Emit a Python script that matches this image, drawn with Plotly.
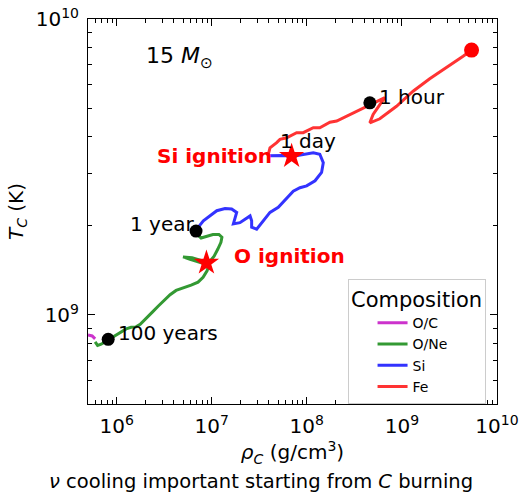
import numpy as np
import plotly.graph_objects as go

# ---- data (central density in g/cm^3, central temperature in K) ----
oc_rho = [5.0e5, 5.53e5, 5.94e5]
oc_T = [8.56e8, 8.49e8, 8.30e8]

one_rho = [5.94e5, 6.31e5, 6.88e5, 7.39e5, 8.15e5, 9.41e5, 1.09e6, 1.26e6, 1.42e6, 1.60e6,
           1.77e6, 2.04e6, 2.36e6, 2.73e6, 3.16e6, 3.65e6, 4.22e6, 5.00e6, 6.07e6, 7.18e6,
           8.11e6, 8.93e6, 9.25e6, 8.71e6, 7.54e6, 6.21e6, 5.00e6, 5.92e6, 7.02e6, 8.30e6,
           9.60e6, 1.06e7, 1.16e7, 1.25e7, 1.28e7, 1.19e7, 1.03e7, 8.93e6, 7.73e6, 7.18e6,
           7.02e6]
one_T = [8.11e8, 7.89e8, 7.96e8, 8.07e8, 8.24e8, 8.47e8, 8.70e8, 8.97e8, 9.08e8, 9.11e8,
         9.29e8, 9.77e8, 1.02e9, 1.07e9, 1.12e9, 1.17e9, 1.21e9, 1.23e9, 1.26e9, 1.29e9,
         1.34e9, 1.41e9, 1.46e9, 1.50e9, 1.53e9, 1.56e9, 1.57e9, 1.54e9, 1.51e9, 1.49e9,
         1.52e9, 1.58e9, 1.67e9, 1.76e9, 1.83e9, 1.87e9, 1.87e9, 1.85e9, 1.82e9, 1.86e9,
         1.92e9]

si_rho = [7.02e6, 7.23e6, 8.17e6, 9.60e6, 1.13e7, 1.38e7, 1.62e7, 1.83e7, 1.76e7, 1.69e7,
          1.98e7, 2.33e7, 2.53e7, 2.63e7, 2.63e7, 2.97e7, 3.35e7, 4.10e7, 5.01e7, 6.14e7,
          7.20e7, 8.47e7, 9.96e7, 1.22e8, 1.43e8, 1.49e8, 1.37e8, 1.17e8, 9.16e7, 7.20e7,
          5.65e7, 4.62e7, 3.90e7]
si_T = [1.92e9, 1.98e9, 2.08e9, 2.17e9, 2.25e9, 2.29e9, 2.28e9, 2.22e9, 2.13e9, 2.03e9,
        2.05e9, 2.13e9, 2.16e9, 2.08e9, 1.98e9, 1.95e9, 2.05e9, 2.22e9, 2.31e9, 2.49e9,
        2.62e9, 2.69e9, 2.73e9, 2.84e9, 3.03e9, 3.27e9, 3.49e9, 3.53e9, 3.49e9, 3.44e9,
        3.46e9, 3.46e9, 3.45e9]

fe_rho = [3.90e7, 4.10e7, 4.82e7, 5.22e7, 6.14e7, 7.82e7, 9.16e7, 1.17e8, 1.37e8, 1.75e8,
          2.06e8, 2.84e8, 4.25e8, 5.41e8, 6.61e8, 5.86e8, 4.98e8, 4.60e8, 5.86e8, 8.77e8,
          1.31e9, 1.96e9, 2.94e9, 4.40e9, 5.38e9]
fe_T = [3.45e9, 3.67e9, 3.82e9, 3.92e9, 3.97e9, 4.13e9, 4.13e9, 4.29e9, 4.29e9, 4.48e9,
        4.52e9, 4.76e9, 5.07e9, 5.28e9, 5.42e9, 5.14e9, 4.76e9, 4.46e9, 4.60e9, 5.07e9,
        5.70e9, 6.28e9, 6.84e9, 7.48e9, 7.84e9]

time_labels = ["100 years", "1 year", "1 day", "1 hour"]
time_rho = [8.15e5, 6.84e6, 6.92e7, 4.60e8]
time_T = [8.27e8, 1.92e9, 3.44e9, 5.21e9]

ignition_labels = ["O ignition", "Si ignition"]
ignition_rho = [8.8e6, 6.92e7]
ignition_T = [1.50e9, 3.44e9]

final_rho = [5.4e9]
final_T = [7.85e9]

# tick labels
x_decades = [6, 7, 8, 9, 10]
y_decades = [9, 10]
x_ticktext = ["10<sup>%d</sup>" % d for d in x_decades]
y_ticktext = ["10<sup>%d</sup>" % d for d in y_decades]

FONT = "DejaVu Sans"
X_RANGE = [np.log10(5e5), 10]
Y_RANGE = [np.log10(5e8), 10]

x_minor = [m * 10.0 ** e for e in range(5, 10) for m in range(2, 10)
           if 5e5 <= m * 10.0 ** e <= 1e10]
y_minor = [m * 10.0 ** e for e in range(8, 10) for m in range(2, 10)
           if 5e8 <= m * 10.0 ** e <= 1e10]

fig = go.Figure()
for name, xs, ys, col in [("O/C", oc_rho, oc_T, "#cc33cc"),
                          ("O/Ne", one_rho, one_T, "#339933"),
                          ("Si", si_rho, si_T, "#3333ff"),
                          ("Fe", fe_rho, fe_T, "#ff3333")]:
    fig.add_trace(go.Scatter(x=xs, y=ys, mode="lines", name=name,
                             line=dict(color=col, width=3)))

fig.add_trace(go.Scatter(x=[time_rho[0], time_rho[1], time_rho[3]],
                         y=[time_T[0], time_T[1], time_T[3]], mode="markers",
                         marker=dict(color="black", size=13), showlegend=False))
fig.add_trace(go.Scatter(x=ignition_rho, y=ignition_T, mode="markers",
                         marker=dict(symbol="star", color="red", size=19,
                                     line=dict(width=0)), showlegend=False))
fig.add_trace(go.Scatter(x=final_rho, y=final_T, mode="markers",
                         marker=dict(color="red", size=15), showlegend=False))
# invisible trace to carry the minor-tick axes
fig.add_trace(go.Scatter(x=final_rho, y=final_T, mode="markers", xaxis="x2", yaxis="y2",
                         marker=dict(opacity=0), hoverinfo="skip", showlegend=False))

L = np.log10
ann = []
ann.append(dict(x=L(1.01e6), y=L(8.70e8), text=time_labels[0], xanchor="left"))
ann.append(dict(x=L(6.68e6), y=L(2.03e9), text=time_labels[1], xanchor="right"))
ann.append(dict(x=L(5.09e7), y=L(3.86e9), text=time_labels[2], xanchor="left"))
ann.append(dict(x=L(5.58e8), y=L(5.47e9), text=time_labels[3], xanchor="left"))
for a in ann:
    a.update(xref="x", yref="y", showarrow=False, yanchor="middle",
             font=dict(family=FONT, size=20, color="black"), borderpad=0)
ann.append(dict(x=L(1.68e7), y=L(1.58e9), text="<b>" + ignition_labels[0] + "</b>",
                xref="x", yref="y", showarrow=False, xanchor="left", yanchor="middle",
                font=dict(family=FONT, size=20, color="red"), borderpad=0))
ann.append(dict(x=L(4.4e7), y=L(3.44e9), text="<b>" + ignition_labels[1] + "</b>",
                xref="x", yref="y", showarrow=False, xanchor="right", yanchor="middle",
                font=dict(family=FONT, size=20, color="red"), borderpad=0))
ann.append(dict(x=L(4.54e6), y=L(7.41e9), text="15 <i>M</i><sub>⊙</sub>",
                xref="x", yref="y", showarrow=False, xanchor="center", yanchor="middle",
                font=dict(family=FONT, size=22, color="black")))
ann.append(dict(x=0.424, y=-0.20, xref="paper", yref="paper",
                text="<i>ν</i> cooling important starting from <i>C</i> burning",
                showarrow=False, xanchor="center", yanchor="middle",
                font=dict(family=FONT, size=19.5, color="black")))

base = dict(type="log", showgrid=False, zeroline=False, automargin=False,
            ticks="inside", tickwidth=1, tickcolor="black", mirror="allticks",
            showline=True, linecolor="black", linewidth=1)

fig.update_layout(
    width=523, height=493,
    margin=dict(l=88, r=26, t=19, b=89, autoexpand=False),
    plot_bgcolor="white", paper_bgcolor="white",
    font=dict(family=FONT, color="black"),
    xaxis=dict(base, range=X_RANGE, tickmode="array",
               tickvals=[10.0 ** d for d in x_decades], ticktext=x_ticktext, ticklen=7,
               ticklabelstandoff=4,
               tickfont=dict(family=FONT, size=20, color="black"),
               title=dict(text="<i>ρ</i><sub><i>C</i></sub> (g/cm<sup>3</sup>)",
                          font=dict(family=FONT, size=20), standoff=2)),
    yaxis=dict(base, range=Y_RANGE, tickmode="array",
               tickvals=[10.0 ** d for d in y_decades], ticktext=y_ticktext, ticklen=7,
               ticklabelstandoff=4,
               tickfont=dict(family=FONT, size=20, color="black"),
               title=dict(text="<i>T</i><sub><i>C</i></sub> (K)",
                          font=dict(family=FONT, size=20), standoff=6)),
    xaxis2=dict(base, range=X_RANGE, overlaying="x", anchor="y", side="bottom",
                tickmode="array", tickvals=x_minor, ticklen=4, showticklabels=False),
    yaxis2=dict(base, range=Y_RANGE, overlaying="y", anchor="x", side="left",
                tickmode="array", tickvals=y_minor, ticklen=4, showticklabels=False),
    legend=dict(x=0.972, y=0.325, xanchor="right", yanchor="top",
                bgcolor="white", bordercolor="#cccccc", borderwidth=1,
                font=dict(family=FONT, size=14),
                title=dict(text="Composition", font=dict(family=FONT, size=21),
                           side="top center"),
                indentation=24, itemwidth=30),
    annotations=ann,
)

fig.write_html("out.html", config={"displayModeBar": False},
               post_script="document.body.style.margin='0';")
